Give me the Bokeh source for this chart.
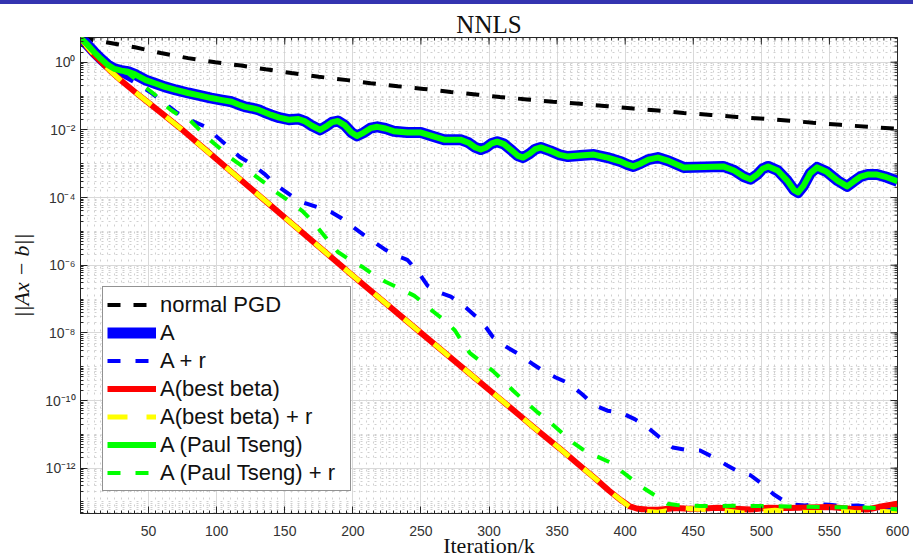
import math
from bokeh.plotting import figure
from bokeh.models import FixedTicker, Range1d, Legend, LegendItem, Div
from bokeh.layouts import column
from bokeh.embed import file_html
from bokeh.resources import INLINE

# ---------------- data (y given as log10 values) -------------
title_text = "NNLS"
x_label = "Iteration/k"
y_label = "||Ax − b||"

x_lim = (0, 600)
x_ticks = [50, 100, 150, 200, 250, 300, 350, 400, 450, 500, 550, 600]
x_minor = list(range(0, 601, 5))
y_ticks = [1e-12, 1e-10, 1e-8, 1e-6, 1e-4, 1e-2, 1e0]
y_tick_labels = ["10⁻¹²", "10⁻¹⁰", "10⁻⁸", "10⁻⁶", "10⁻⁴", "10⁻²", "10⁰"]
y_minor = [m * 10.0 ** e for e in range(-14, 1) for m in range(1, 10)]
y_lim_log = (-13.34, 0.73)

# normal PGD
pgd_x = [0, 23, 40, 59, 79, 99, 118, 136, 155, 175, 196, 213, 233, 252, 272, 292,
         308, 328, 347, 367, 387, 406, 424, 443, 463, 482, 502, 521, 538, 558, 578, 600]
pgd_log = [0.72, 0.56, 0.44, 0.27, 0.12, 0.0, -0.10, -0.21, -0.32, -0.43, -0.53, -0.62,
           -0.71, -0.79, -0.88, -0.96, -1.03, -1.10, -1.17, -1.23, -1.30, -1.37, -1.43,
           -1.50, -1.56, -1.62, -1.67, -1.73, -1.79, -1.85, -1.91, -1.97]

# A  (and A (Paul Tseng), which lies on top of it)
a_x = [0, 5, 10, 15, 20, 25, 30, 35, 40, 48, 55, 62, 70, 79, 88, 96, 104, 111, 116,
       121, 126, 131, 135, 140, 146, 153, 160, 165, 170, 176, 181, 185, 189, 194, 199,
       203, 208, 213, 218, 224, 230, 240, 250, 258, 267, 279, 285, 290, 294, 298, 302,
       306, 311, 317, 321, 325, 330, 334, 338, 345, 352, 358, 367, 377, 387, 397, 402,
       406, 411, 417, 424, 432, 443, 458, 472, 480, 487, 492, 497, 501, 505, 512, 519,
       524, 527, 531, 536, 541, 548, 556, 563, 568, 573, 578, 585, 592, 600]
a_log = [0.72, 0.52, 0.30, 0.10, -0.08, -0.20, -0.25, -0.28, -0.36, -0.53, -0.63,
         -0.73, -0.82, -0.91, -0.99, -1.06, -1.12, -1.17, -1.25, -1.32, -1.36, -1.41,
         -1.48, -1.56, -1.64, -1.70, -1.68, -1.75, -1.88, -2.00, -1.88, -1.77, -1.74,
         -1.86, -2.08, -2.18, -2.08, -1.95, -1.91, -1.96, -2.04, -2.08, -2.08, -2.18,
         -2.29, -2.29, -2.38, -2.52, -2.58, -2.52, -2.40, -2.35, -2.42, -2.62, -2.76,
         -2.82, -2.70, -2.57, -2.52, -2.62, -2.74, -2.79, -2.76, -2.73, -2.82, -2.94,
         -3.03, -3.08, -3.00, -2.88, -2.82, -2.92, -3.11, -3.10, -3.08, -3.20, -3.38,
         -3.46, -3.32, -3.15, -3.08, -3.20, -3.50, -3.78, -3.85, -3.65, -3.28, -3.11,
         -3.24, -3.50, -3.67, -3.52, -3.38, -3.32, -3.32, -3.40, -3.52]
tseng_x = a_x
tseng_log = a_log

# A + r
ar_x = [0, 5, 10, 15, 20, 25, 30, 40, 51, 60, 70, 80, 92, 100, 109, 117, 126, 135,
        145, 155, 163, 175, 184, 192, 200, 212, 223, 232, 240, 248, 255, 263, 272, 282,
        292, 298, 303, 313, 323, 332, 340, 349, 358, 368, 377, 387, 397, 407, 416, 425,
        435, 445, 455, 465, 475, 483, 492, 500, 509, 517, 524, 532, 540, 550, 560, 570,
        580, 590, 600]
ar_log = [0.72, 0.52, 0.30, 0.10, -0.10, -0.28, -0.38, -0.60, -0.88, -1.15, -1.47,
          -1.70, -1.91, -2.20, -2.52, -2.80, -3.02, -3.30, -3.67, -3.95, -4.14, -4.30,
          -4.43, -4.62, -4.87, -5.22, -5.52, -5.72, -5.84, -6.20, -6.61, -6.80, -6.93,
          -7.22, -7.57, -7.85, -8.13, -8.42, -8.66, -8.92, -9.13, -9.32, -9.48, -9.80,
          -10.13, -10.30, -10.36, -10.55, -10.78, -11.08, -11.39, -11.46, -11.48,
          -11.68, -11.92, -12.10, -12.21, -12.45, -12.77, -12.98, -13.08, -13.10,
          -13.07, -13.08, -13.12, -13.10, -13.14, -13.20, -13.22]

# A(best beta)
bb_x = [0, 5, 10, 15, 23, 30, 40, 50, 60, 73, 100, 150, 200, 250, 300, 333, 352, 366,
        377, 388, 397, 403, 409, 416, 424, 432, 438, 446, 455, 468, 480, 492, 505, 520,
        535, 550, 565, 578, 590, 600]
bb_log = [0.72, 0.45, 0.22, 0.02, -0.30, -0.55, -0.88, -1.20, -1.52, -1.94, -2.87,
          -4.59, -6.31, -8.00, -9.68, -10.80, -11.42, -11.90, -12.27, -12.66, -12.95,
          -13.12, -13.20, -13.22, -13.23, -13.20, -13.18, -13.20, -13.20, -13.17,
          -13.20, -13.22, -13.17, -13.18, -13.16, -13.15, -13.20, -13.22, -13.12, -13.05]

# A(best beta) + r
bbr_x = [0, 5, 10, 15, 23, 30, 40, 50, 60, 73, 100, 150, 200, 250, 300, 333, 352,
         366, 377, 388, 397, 403, 409, 416, 424, 432, 440, 450, 460, 468, 476, 485,
         492, 500, 510, 520, 530, 540, 550, 560, 570, 580, 590, 600]
bbr_log = [0.72, 0.45, 0.22, 0.02, -0.30, -0.55, -0.88, -1.20, -1.52, -1.94, -2.87,
           -4.59, -6.31, -8.00, -9.68, -10.80, -11.42, -11.90, -12.27, -12.66, -12.95,
           -13.14, -13.24, -13.28, -13.30, -13.25, -13.18, -13.20, -13.22, -13.24,
           -13.27, -13.32, -13.33, -13.28, -13.24, -13.28, -13.30, -13.32, -13.30,
           -13.27, -13.32, -13.30, -13.28, -13.30]

# A (Paul Tseng) + r
ptr_x = [0, 5, 10, 15, 20, 25, 30, 35, 42, 48, 55, 59, 66, 72, 78, 85, 93, 101, 110,
         118, 127, 135, 143, 153, 163, 169, 175, 182, 189, 198, 207, 215, 224, 235, 245,
         252, 259, 267, 275, 280, 286, 295, 303, 310, 318, 327, 336, 342, 347, 355, 362,
         369, 379, 389, 397, 405, 414, 424, 431, 438, 446, 455, 468, 480, 492, 505, 520,
         535, 550, 565, 580, 590, 600]
ptr_log = [0.72, 0.52, 0.30, 0.10, -0.08, -0.20, -0.27, -0.33, -0.55, -0.75, -0.97,
           -1.17, -1.40, -1.56, -1.62, -1.90, -2.23, -2.50, -2.82, -3.05, -3.32, -3.56,
           -3.82, -4.10, -4.40, -4.65, -4.93, -5.28, -5.61, -5.85, -6.05, -6.28, -6.49,
           -6.70, -6.90, -7.12, -7.37, -7.62, -7.93, -8.25, -8.60, -8.88, -9.13, -9.40,
           -9.72, -10.05, -10.36, -10.55, -10.72, -11.01, -11.25, -11.45, -11.65,
           -11.83, -12.08, -12.33, -12.60, -12.86, -13.05, -13.09, -13.10, -13.12,
           -13.12, -13.11, -13.12, -13.12, -13.13, -13.14, -13.15, -13.16, -13.17,
           -13.18, -13.22]


def vals(logs):
    return [10.0 ** v for v in logs]


y_lo, y_hi = 10.0 ** y_lim_log[0], 10.0 ** y_lim_log[1]

# ---------------- figure -------------------------------------------------------------
AX = "#262626"
p = figure(width=913, height=556, y_axis_type="log",
           x_range=Range1d(*x_lim), y_range=Range1d(y_lo, y_hi),
           output_backend="svg", toolbar_location=None,
           min_border_left=80, min_border_right=16,
           min_border_top=33, min_border_bottom=44)
p.background_fill_color = "white"
p.border_fill_color = "white"
p.outline_line_color = AX
p.outline_line_width = 1

p.title.text = title_text
p.title.align = "center"
p.title.text_font = "Liberation Serif"
p.title.text_font_size = "25px"
p.title.text_font_style = "normal"
p.title.text_color = "#111111"
p.title.standoff = 0

xt = FixedTicker(ticks=x_ticks, minor_ticks=x_minor)
yt = FixedTicker(ticks=y_ticks, minor_ticks=y_minor)
p.xaxis.ticker = xt
p.yaxis.ticker = yt
p.xgrid.ticker = xt
p.ygrid.ticker = yt
p.yaxis.major_label_overrides = {t: s for t, s in zip(y_ticks, y_tick_labels)}

for ax in (p.xaxis[0], p.yaxis[0]):
    ax.axis_line_color = AX
    ax.major_tick_line_color = AX
    ax.minor_tick_line_color = AX
    ax.major_tick_in = 7
    ax.major_tick_out = 0
    ax.minor_tick_in = 3
    ax.minor_tick_out = 0
    ax.major_label_text_font = "Liberation Sans"
    ax.major_label_text_font_size = "14px"
    ax.major_label_text_color = "#333333"
    ax.axis_label_text_font = "Liberation Serif"
    ax.axis_label_text_font_size = "22px"
    ax.axis_label_text_font_style = "normal"
    ax.axis_label_text_color = "#111111"

p.xaxis.axis_label = x_label
p.yaxis.axis_label = y_label
p.yaxis.axis_label_text_font_style = "italic"
p.xaxis.major_label_standoff = 12
p.xaxis.axis_label_standoff = -6
p.yaxis.major_label_standoff = 5
p.yaxis.axis_label_standoff = 8

for g in (p.xgrid[0], p.ygrid[0]):
    g.grid_line_color = "#d9d9d9"
    g.grid_line_width = 1
    g.minor_grid_line_color = "#d0d0d0"
    g.minor_grid_line_dash = "2 5"
    g.minor_grid_line_width = 1

# box ticks on the top and right edges (half of each dash is clipped by the frame)
p.scatter(x_ticks, [y_hi] * len(x_ticks), marker="dash", size=14, angle=math.pi / 2,
          line_color=AX, line_width=1)
p.scatter(x_minor, [y_hi] * len(x_minor), marker="dash", size=6, angle=math.pi / 2,
          line_color=AX, line_width=1)
p.scatter([x_lim[1]] * len(y_ticks), y_ticks, marker="dash", size=14,
          line_color=AX, line_width=1)
p.scatter([x_lim[1]] * len(y_minor), y_minor, marker="dash", size=6,
          line_color=AX, line_width=1)

# ---------------- lines --------------------------------------------------------------
r_pgd = p.line(pgd_x, vals(pgd_log), line_color="black", line_width=4, line_dash="13 13")
r_a = p.line(a_x, vals(a_log), line_color="#0000ff", line_width=11, line_join="round")
r_ar = p.line(ar_x, vals(ar_log), line_color="#0000ff", line_width=4, line_dash="13 15")
r_bb = p.line(bb_x, vals(bb_log), line_color="#ff0000", line_width=6, line_join="round")
r_bbr = p.line(bbr_x, vals(bbr_log), line_color="#ffff00", line_width=5, line_dash="20 19")
r_pt = p.line(tseng_x, vals(tseng_log), line_color="#00ff00", line_width=6, line_join="round")
r_ptr = p.line(ptr_x, vals(ptr_log), line_color="#00ff00", line_width=4, line_dash="13 15")

legend = Legend(items=[
    LegendItem(label="normal PGD", renderers=[r_pgd]),
    LegendItem(label="A", renderers=[r_a]),
    LegendItem(label="A + r", renderers=[r_ar]),
    LegendItem(label="A(best beta)", renderers=[r_bb]),
    LegendItem(label="A(best beta) + r", renderers=[r_bbr]),
    LegendItem(label="A (Paul Tseng)", renderers=[r_pt]),
    LegendItem(label="A (Paul Tseng) + r", renderers=[r_ptr]),
], location=(22, 22))
legend.label_text_font = "Liberation Sans"
legend.label_text_font_size = "22px"
legend.label_text_color = "#111111"
legend.glyph_width = 49
legend.glyph_height = 27
legend.label_height = 27
legend.label_width = 186
legend.label_standoff = 4
legend.spacing = 1
legend.padding = 4
legend.border_line_color = AX
legend.border_line_width = 1
legend.background_fill_color = "white"
legend.background_fill_alpha = 1
p.add_layout(legend)

bar = Div(width=913, height=4, margin=0,
          styles={"background-color": "#3434b0", "width": "913px", "height": "4px"})
layout = column(bar, p, spacing=0)

open("out.html", "w").write(file_html(layout, INLINE))
